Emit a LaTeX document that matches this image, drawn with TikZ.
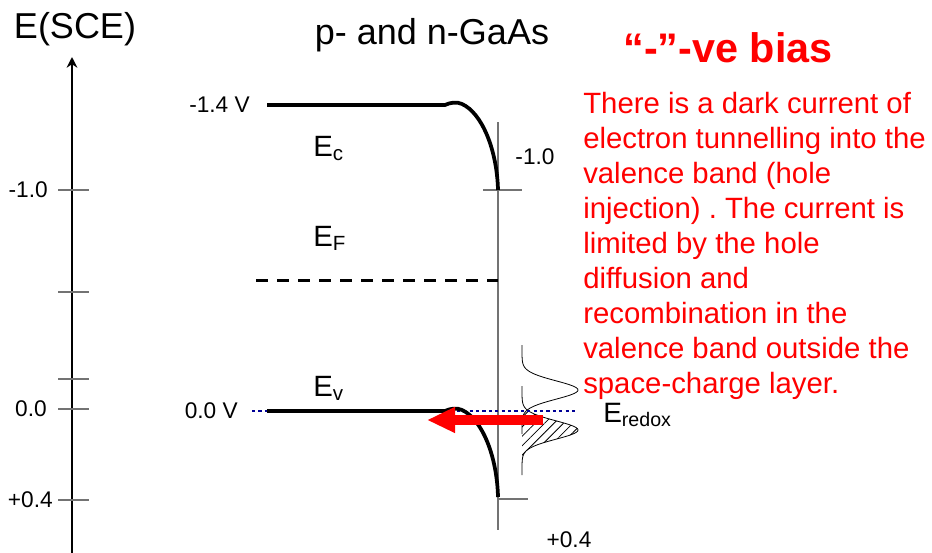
\documentclass[tikz,border=0pt]{standalone}
\usepackage{fontspec}
\setmainfont{Liberation Sans}
\usetikzlibrary{arrows.meta,patterns.meta}
\definecolor{BiasRed}{RGB}{255,0,0}
\definecolor{RedoxBlue}{RGB}{0,0,150}
\definecolor{TickGray}{gray}{0.45}
\tikzset{
  bdBase/.style={
    inner sep=0pt,
    text=black
  },
  bdTickLabel/.style={
    bdBase,
    font=\fontsize{17pt}{19pt}\selectfont
  },
  bdLevelLabel/.style={
    bdBase,
    font=\fontsize{22pt}{24pt}\selectfont,
    anchor=base west
  },
  bdTitle/.style={
    bdBase,
    font=\fontsize{27pt}{30pt}\selectfont,
    anchor=base
  },
  bdBand/.style={
    line width=2.8pt,
    draw=black
  },
  bdTick/.style={
    line width=0.8pt,
    draw=TickGray
  },
  bdDotted/.style={
    line width=2.2pt,
    draw=RedoxBlue,
    dash pattern=on 2.4pt off 2.4pt
  },
  bdFermi/.style={
    line width=2.25pt,
    dash pattern=on 9pt off 6.75pt
  },
  bdDos/.style={
    line width=0.6pt
  },
  bdArrow/.style={
    line width=7.5pt,
    draw=BiasRed,
    -{Triangle[length=21pt,width=18pt]}
  },
  bdAxis/.style={
    line width=2.2pt,
    -{Stealth[length=8pt,width=8pt]}
  }
}

\begin{document}
\frenchspacing
\begin{tikzpicture}[x=0.75pt, y=-0.75pt]
    \useasboundingbox (0,0) rectangle (932,553);

    % Potential axis
    \coordinate (axis_bot) at (72,553);
    \coordinate (axis_top) at (72,57);
    \draw [bdAxis] (axis_bot) -- (axis_top);
    \node (axis_label) [bdTitle] at (75,38) {E(SCE)};
    \foreach \ty in {190,292,379,409,500}
      \draw [bdTick] (58,\ty) -- (89,\ty);
    \node (tick_m1) [bdTickLabel, anchor=east] at (48,190) {-1.0};
    \node (tick_0) [bdTickLabel, anchor=east] at (47,409) {0.0};
    \node (tick_p4) [bdTickLabel, anchor=east] at (53,500) {+0.4};

    \node (gaas_title) [bdTitle] at (432,44) {p- and n-GaAs};

    % Interface line and its ticks
    \draw [bdTick] (498,122) -- (498,530);
    \draw [bdTick] (483,190) -- (522,190);
    \draw [bdTick] (498,499) -- (528,499);
    \node (edge_m1) [bdTickLabel] at (535,157) {-1.0};
    \node (edge_p4) [bdTickLabel] at (569,540) {+0.4};

    % Redox distributions
    \draw [bdDos] plot[domain=345:434, samples=80, smooth]
      ({522+56*exp(-((\x-390)/13)^2)}, \x);
    \fill [pattern={Lines[angle=45,distance=5pt,line width=0.6pt]}]
      (522,411) -- plot[domain=411:458, samples=40, smooth]
      ({522+56*exp(-((\x-430)/13)^2)}, \x) -- (522,458) -- cycle;
    \draw [bdDos] plot[domain=386:475, samples=80, smooth]
      ({522+56*exp(-((\x-430)/13)^2)}, \x);

    % Redox level
    \coordinate (redox_l) at (252,411);
    \coordinate (redox_r) at (578,411);
    \draw [bdDotted] (redox_l) -- (redox_r);

    % Bands
    \draw [bdBand] (267,105) -- (445,105)
      .. controls (450,102.5) and (457,101.5) .. (462,104)
      .. controls (482,113) and (497,150) .. (498,190);
    \draw [bdBand] (267,411) -- (445,411)
      .. controls (450,408.5) and (457,407.5) .. (462,410)
      .. controls (482,419) and (497,456) .. (498,497);
    \draw [bdFermi] (256,280) -- (498,280);

    \node (ec_volt) [bdTickLabel, anchor=east] at (250,105) {-1.4 V};
    \node (ev_volt) [bdTickLabel, anchor=east] at (238,411) {0.0 V};

    \node (ec_label) [bdLevelLabel] at (313,156) {E\textsubscript{c}};
    \node (ef_label) [bdLevelLabel] at (313,246) {E\textsubscript{F}};
    \node (ev_label) [bdLevelLabel] at (313,396) {E\textsubscript{v}};
    \node (redox_label) [bdLevelLabel, font=\fontsize{21pt}{23pt}\selectfont] at (603,422) {E\textsubscript{redox}};

    % Hole injection
    \coordinate (hole_from) at (543,420);
    \coordinate (hole_to) at (427,420);
    \draw [bdArrow] (hole_from) -- (hole_to);

    % Bias note
    \node (bias_title) [bdBase, font=\fontsize{31pt}{34pt}\selectfont\bfseries, text=BiasRed, anchor=base] at (728,62) {“-”-ve bias};
    \node (bias_text) [bdBase, font=\fontsize{22pt}{26.25pt}\selectfont, text=BiasRed, align=left, anchor=north west] at (583,92) {
      There is a dark current of\\
      electron tunnelling into the\\
      valence band (hole\\
      injection) . The current is\\
      limited by the hole\\
      diffusion and\\
      recombination in the\\
      valence band outside the\\
      space-charge layer.
    };
\end{tikzpicture}
\end{document}
